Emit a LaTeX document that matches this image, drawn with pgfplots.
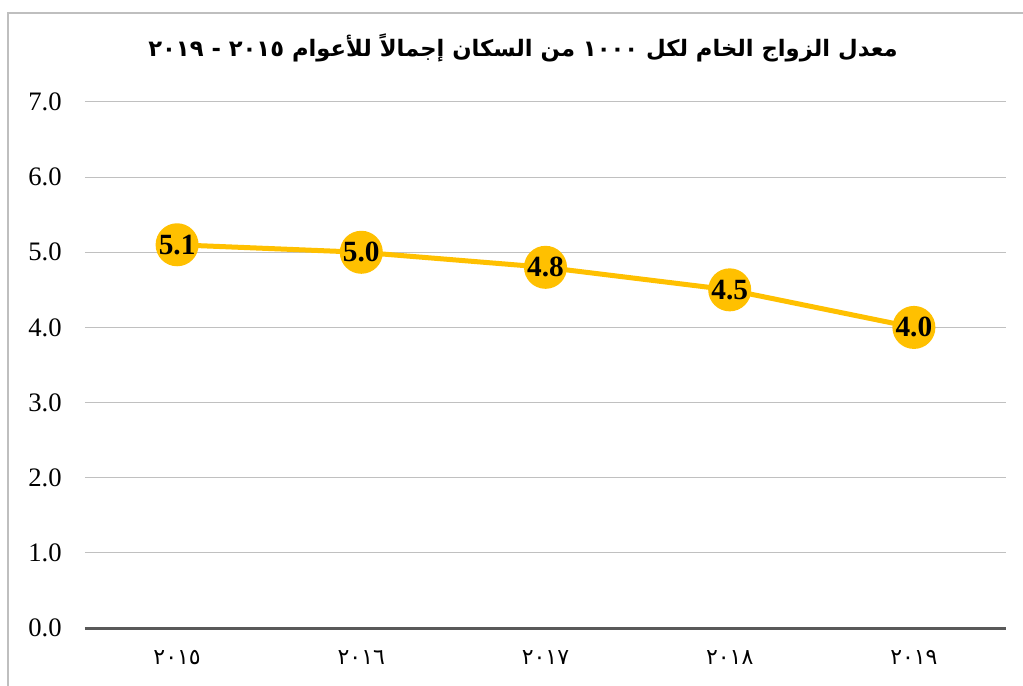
\documentclass[border=0pt]{standalone}
\usepackage{pgfplots}
\pgfplotsset{compat=1.18}
\usepackage{fontspec}
\setmainfont{Liberation Serif}
\newfontfamily\arabicfont[Script=Arabic]{DejaVu Sans}
\TeXXeTstate=1
\definecolor{lineyellow}{HTML}{FFC000}
\definecolor{gridgray}{HTML}{C0C0C0}
\definecolor{axisdark}{HTML}{595959}
\definecolor{framegray}{HTML}{BFBFBF}
\begin{document}
\begin{tikzpicture}
\useasboundingbox (-63.75pt,-42.75pt) rectangle (703.5pt,471pt);
\draw[framegray, line width=1.5pt] (-57.75pt,-100pt) rectangle (800pt,461.25pt);
\begin{axis}[
  at={(0,0)}, anchor=south west,
  scale only axis,
  width=690.75pt, height=394.5pt,
  xmin=-0.5, xmax=4.5, ymin=0, ymax=7,
  axis line style={draw=none},
  xtick={0,1,2,3,4},
  xticklabels={{\arabicfont ٢٠١٥},{\arabicfont ٢٠١٦},{\arabicfont ٢٠١٧},{\arabicfont ٢٠١٨},{\arabicfont ٢٠١٩}},
  ytick={0,1,2,3,4,5,6,7},
  major tick length=0pt,
  tick style={draw=none},
  ymajorgrids,
  grid style={gridgray, line width=0.75pt},
  yticklabel style={font=\fontsize{20}{20}\selectfont, xshift=-14pt},
  xticklabel style={font=\fontsize{16.5}{16.5}\selectfont, yshift=-13.5pt},
  /pgf/number format/assume math mode=true,
  yticklabel={\pgfmathprintnumber[fixed,fixed zerofill,precision=1]{\tick}},
  clip=false,
]
\draw[axisdark, line width=2.25pt] (axis cs:-0.5,0) -- (axis cs:4.5,0);
\addplot[lineyellow, line width=3.75pt,
  mark=*, mark size=14.25pt, mark options={fill=lineyellow, draw=none},
  point meta=explicit symbolic,
  nodes near coords,
  every node near coord/.append style={anchor=center, text=black, font=\fontsize{22}{22}\selectfont\bfseries},
] coordinates {
  (0,5.1) [5.1]
  (1,5.0) [5.0]
  (2,4.8) [4.8]
  (3,4.5) [4.5]
  (4,4.0) [4.0]
};
\end{axis}
\node[font=\arabicfont\bfseries\fontsize{17}{17}\selectfont, anchor=center] at (328.5pt,435pt)
  {\beginR معدل الزواج الخام لكل \beginL١٠٠٠\endL{} من السكان إجمالاً للأعوام \beginL٢٠١٥\endL{} - \beginL٢٠١٩\endL\endR};
\end{tikzpicture}
\end{document}
